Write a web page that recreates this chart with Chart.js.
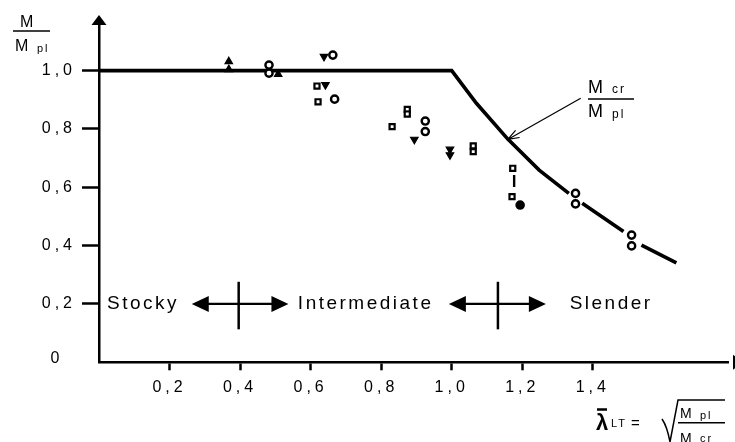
<!DOCTYPE html>
<html>
<head>
<meta charset="utf-8">
<script src="https://cdn.jsdelivr.net/npm/chart.js@4.4.0/dist/chart.umd.min.js"></script>
<style>
  body { margin: 0; background: #fff; }
</style>
</head>
<body>
<canvas id="chart" width="735" height="442"></canvas>
<script>
// tick values (lambda_LT and M/Mpl)
const xTicks = [0.2, 0.4, 0.6, 0.8, 1.0, 1.2, 1.4];
const yTicks = [0.2, 0.4, 0.6, 0.8, 1.0];

// Mcr/Mpl design curve (nulls = gaps where the curve is broken by markers)
const curveX = [0, 1.0, 1.07, 1.159, 1.248, 1.332, null, 1.37, 1.487, null, 1.538, 1.637];
const curveY = [1.0, 1.0, 0.888, 0.765, 0.659, 0.579, null, 0.545, 0.448, null, 0.402, 0.341];

// test results, by marker
const circleX = [0.482, 0.482, 0.663, 0.668, 0.925, 0.925, 1.351, 1.351, 1.510, 1.510];
const circleY = [1.019, 0.991, 1.053, 0.902, 0.827, 0.791, 0.579, 0.543, 0.436, 0.399];
const squareX = [0.618, 0.621, 0.874, 0.874, 0.831, 1.061, 1.061, 1.173, 1.171];
const squareY = [0.947, 0.893, 0.867, 0.851, 0.808, 0.742, 0.722, 0.665, 0.568];
const downTriX = [0.638, 0.642, 0.894, 0.995, 0.995];
const downTriY = [1.048, 0.951, 0.764, 0.730, 0.711];
const upTriX = [0.368, 0.368, 0.508];
const upTriY = [1.031, 1.004, 0.987];
const dotX = [1.194];
const dotY = [0.539];
const rangeX = [1.177, 1.177];
const rangeY = [0.642, 0.601];

const FONT = "'Liberation Sans', Arial, sans-serif";

function pts(xs, ys) {
    return xs.map((v, i) => ({ x: v, y: ys[i] }));
}

function commaLabel(v) {
    return v.toFixed(1).replace('.', ',');
}

function tri(ctx, a, b, c) {
    ctx.beginPath();
    ctx.moveTo(a[0], a[1]);
    ctx.lineTo(b[0], b[1]);
    ctx.lineTo(c[0], c[1]);
    ctx.closePath();
    ctx.fill();
}

function text(ctx, s, x, y, size, spacing, align) {
    ctx.font = size + 'px ' + FONT;
    ctx.letterSpacing = (spacing || 0) + 'px';
    ctx.textAlign = align || 'left';
    ctx.fillText(s, x, y);
}

function hline(ctx, x1, x2, y, w) {
    ctx.lineWidth = w;
    ctx.beginPath();
    ctx.moveTo(x1, y);
    ctx.lineTo(x2, y);
    ctx.stroke();
}

const extras = {
    id: 'extras',
    beforeDraw(chart) {
        chart.ctx.letterSpacing = '4px';
    },
    beforeDatasetsDraw(chart) {
        chart.ctx.letterSpacing = '0px';
    },
    afterDraw(chart) {
        const { ctx, scales: { x, y } } = chart;
        const px = v => x.getPixelForValue(v);
        const py = v => y.getPixelForValue(v);
        ctx.save();
        ctx.fillStyle = '#000';
        ctx.strokeStyle = '#000';
        ctx.lineCap = 'butt';

        // axis arrow heads
        const ox = px(0), oy = py(0);
        tri(ctx, [ox, 15], [ox - 7.5, 25], [ox + 7.5, 25]);
        tri(ctx, [743, oy], [733, oy - 7.5], [733, oy + 7.5]);

        // origin label
        ctx.textBaseline = 'middle';
        text(ctx, '0', 55, oy - 3.5, 16, 0, 'center');

        // regions
        const ry = py(0.2);
        text(ctx, 'Stocky', px(0.125), ry, 19, 2.5, 'center');
        text(ctx, 'Intermediate', px(0.756), ry, 19, 2.5, 'center');
        text(ctx, 'Slender', px(1.452), ry, 19, 2.5, 'center');
        [[0.263, 0.537, 0.396], [0.992, 1.267, 1.131]].forEach(([a, b, m]) => {
            const xa = px(a), xb = px(b), xm = px(m);
            hline(ctx, xa + 10, xb - 10, ry, 2.3);
            tri(ctx, [xa, ry], [xa + 17, ry - 8], [xa + 17, ry + 8]);
            tri(ctx, [xb, ry], [xb - 17, ry - 8], [xb - 17, ry + 8]);
            ctx.lineWidth = 2.5;
            ctx.beginPath();
            ctx.moveTo(xm, py(0.276));
            ctx.lineTo(xm, py(0.113));
            ctx.stroke();
        });

        ctx.textBaseline = 'alphabetic';
        // y axis title M / Mpl
        text(ctx, 'M', 20, 27, 16, 0);
        hline(ctx, 13, 50, 31, 1.5);
        text(ctx, 'M', 15, 50.5, 16, 0);
        text(ctx, 'pl', 37, 51.5, 11, 2);

        // curve label Mcr / Mpl with pointer
        text(ctx, 'M', 588, 93, 18, 0);
        text(ctx, 'cr', 612, 93, 12, 2);
        hline(ctx, 588, 634, 99, 1.5);
        text(ctx, 'M', 588, 117, 18, 0);
        text(ctx, 'pl', 612, 118, 12, 2);
        const sx = 580.7, sy = 98.3, tx = px(1.159), ty = py(0.764);
        const ang = Math.atan2(ty - sy, tx - sx);
        ctx.lineWidth = 1.2;
        ctx.beginPath();
        ctx.moveTo(sx, sy);
        ctx.lineTo(tx, ty);
        ctx.moveTo(tx - 12 * Math.cos(ang - 0.35), ty - 12 * Math.sin(ang - 0.35));
        ctx.lineTo(tx, ty);
        ctx.lineTo(tx - 12 * Math.cos(ang + 0.35), ty - 12 * Math.sin(ang + 0.35));
        ctx.stroke();

        // x axis title: lambda_LT = sqrt(Mpl / Mcr)
        ctx.font = 'bold 22px ' + FONT;
        ctx.letterSpacing = '0px';
        ctx.textAlign = 'left';
        ctx.fillText('\u03bb', 596, 430);
        hline(ctx, 597, 607, 409.5, 2.5);
        text(ctx, 'LT', 611, 427, 11, 2);
        text(ctx, '=', 631, 428, 15, 0);
        ctx.lineWidth = 1.5;
        ctx.beginPath();
        ctx.moveTo(662, 419);
        ctx.quadraticCurveTo(667, 426, 670, 442);
        ctx.moveTo(670, 442);
        ctx.lineTo(678, 400);
        ctx.lineTo(725, 400);
        ctx.stroke();
        text(ctx, 'M', 680, 418, 14, 0);
        text(ctx, 'pl', 700, 419, 11, 2);
        hline(ctx, 678, 725, 422.7, 1.5);
        text(ctx, 'M', 680, 443, 14, 0);
        text(ctx, 'cr', 700, 442, 11, 2);

        ctx.restore();
    }
};

const pointBase = {
    type: 'scatter',
    pointBorderColor: '#000',
    pointBackgroundColor: '#fff',
    pointBorderWidth: 2.4,
    showLine: false
};

new Chart(document.getElementById('chart'), {
    type: 'scatter',
    data: {
        datasets: [
            { ...pointBase, data: pts(circleX, circleY), pointStyle: 'circle', pointRadius: 3.6 },
            { ...pointBase, data: pts(squareX, squareY), pointStyle: 'rect', pointRadius: 3.6, pointBorderWidth: 2.2 },
            { ...pointBase, data: pts(downTriX, downTriY), pointStyle: 'triangle', rotation: 180, pointRadius: 4.3, pointBackgroundColor: '#000', pointBorderWidth: 1.2 },
            { ...pointBase, data: pts(upTriX, upTriY), pointStyle: 'triangle', pointRadius: 4.3, pointBackgroundColor: '#000', pointBorderWidth: 1.2 },
            { ...pointBase, data: pts(dotX, dotY), pointStyle: 'circle', pointRadius: 3.6, pointBackgroundColor: '#000' },
            {
                type: 'line', data: pts(rangeX, rangeY), borderColor: '#000', borderWidth: 2.4,
                pointRadius: 0, order: 5
            },
            {
                type: 'line', data: pts(curveX, curveY), borderColor: '#000', borderWidth: 3.6,
                pointRadius: 0, spanGaps: false, tension: 0, order: 10
            }
        ]
    },
    options: {
        responsive: false,
        animation: false,
        events: [],
        layout: { padding: { top: 23.9, right: 0.5, left: 0, bottom: 0 } },
        plugins: { legend: { display: false }, tooltip: { enabled: false } },
        scales: {
            x: {
                type: 'linear', min: 0, max: 1.785,
                afterBuildTicks: s => { s.ticks = xTicks.map(v => ({ value: v })); },
                afterFit: s => { s.height = 79.7; s.paddingLeft = 0; s.paddingRight = 0; },
                border: { color: '#000', width: 2.5 },
                grid: { drawOnChartArea: false, tickLength: 8, tickWidth: 2.5, tickColor: '#000' },
                ticks: { color: '#000', font: { family: FONT, size: 16 }, padding: 8, maxRotation: 0, autoSkip: false, callback: commaLabel }
            },
            y: {
                type: 'linear', min: 0, max: 1.16,
                afterBuildTicks: s => { s.ticks = yTicks.map(v => ({ value: v })); },
                afterFit: s => { s.width = 99; s.paddingTop = 0; s.paddingBottom = 0; },
                border: { color: '#000', width: 2.5 },
                grid: { drawOnChartArea: false, tickLength: 17, tickWidth: 2.5, tickColor: '#000' },
                ticks: { color: '#000', font: { family: FONT, size: 16 }, padding: 6, autoSkip: false, callback: commaLabel }
            }
        }
    },
    plugins: [extras]
});
</script>
</body>
</html>
